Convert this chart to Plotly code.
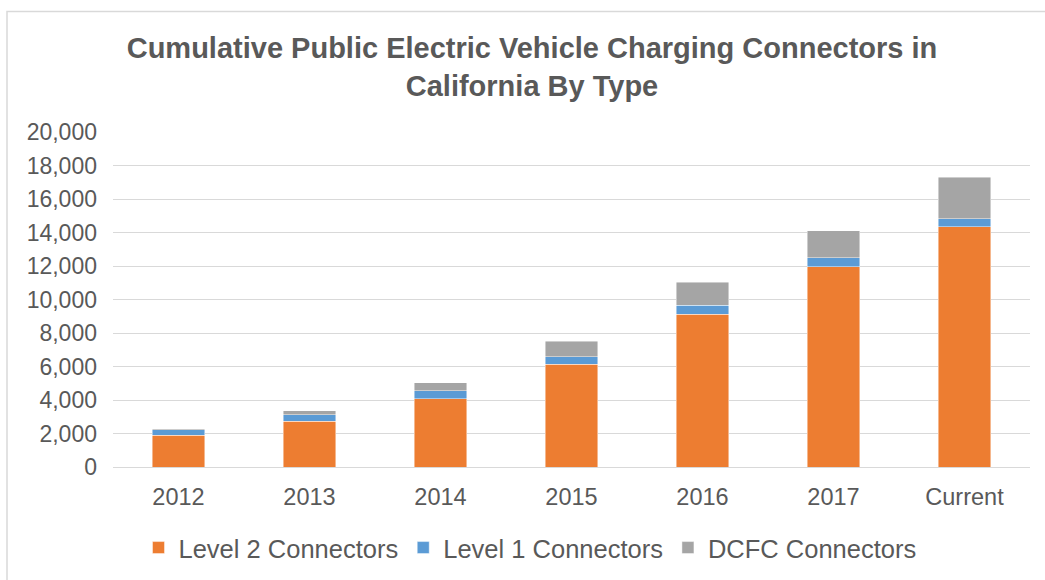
import plotly.graph_objects as go

years = ["2012", "2013", "2014", "2015", "2016", "2017", "Current"]
level2 = [1900, 2730, 4080, 6130, 9120, 11960, 14350]
level1 = [330, 395, 475, 455, 540, 540, 460]
dcfc = [50, 220, 480, 920, 1370, 1590, 2490]

series = [
    ("Level 2 Connectors", level2, "#ED7D31"),
    ("Level 1 Connectors", level1, "#5B9BD5"),
    ("DCFC Connectors", dcfc, "#A5A5A5"),
]

W, H = 1045, 580
ml, mr, mt, mb = 113, 15, 132, 113
pw, ph = W - ml - mr, H - mt - mb

fig = go.Figure()
for name, vals, color in series:
    fig.add_trace(go.Bar(
        x=years, y=vals, name=name,
        marker=dict(color=color, line=dict(color="rgba(255,255,255,0.6)", width=0.75)),
    ))

text_col = "#595959"
fig.update_layout(
    width=W, height=H,
    barmode="stack",
    bargap=0.6,
    plot_bgcolor="white",
    paper_bgcolor="white",
    margin=dict(l=ml, r=mr, t=mt, b=mb),
    font=dict(family="Liberation Sans, Arial, sans-serif", size=23, color=text_col),
    title=dict(
        text="<b>Cumulative Public Electric Vehicle Charging Connectors in<br>California By Type</b>",
        x=532 / W, xanchor="center", xref="container",
        y=1 - 58 / H, yanchor="top", yref="container",
        font=dict(size=29, color=text_col),
    ),
    legend=dict(
        orientation="h",
        x=530 / W, xref="container", xanchor="center",
        y=1 - 548 / H, yref="container", yanchor="middle",
        font=dict(size=25.5, color=text_col),
        traceorder="normal",
        itemwidth=30,
    ),
    showlegend=True,
)

fig.update_xaxes(
    showgrid=False, showline=False, ticks="",
    tickfont=dict(size=23.5, color=text_col),
    ticklabelstandoff=13,
)
fig.update_yaxes(
    range=[0, 20000], dtick=2000, tickformat=",d",
    showgrid=True, gridcolor="#D9D9D9", gridwidth=1,
    zeroline=True, zerolinecolor="#D9D9D9", zerolinewidth=1,
    showline=False, ticks="",
    tickfont=dict(size=23, color=text_col),
    ticklabelstandoff=15,
)

# outer chart frame (right and bottom edges fall outside the page)
fig.add_shape(
    type="rect", xref="paper", yref="paper",
    x0=(7 - ml) / pw, x1=(W + 20 - ml) / pw,
    y0=-(mb + 20) / ph, y1=1 + (mt - 11.5) / ph,
    line=dict(color="#D9D9D9", width=1.5),
    fillcolor="rgba(0,0,0,0)",
    layer="below",
)

fig.write_html("out.html")
